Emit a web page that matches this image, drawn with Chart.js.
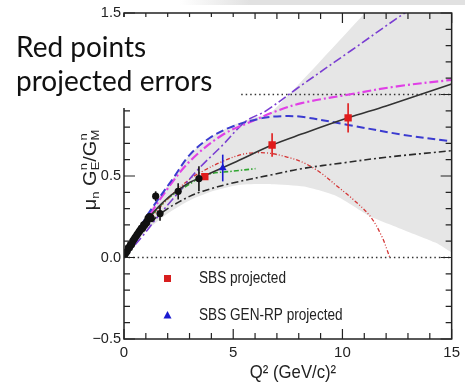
<!DOCTYPE html>
<html>
<head>
<meta charset="utf-8">
<script src="https://cdn.jsdelivr.net/npm/chart.js@4.4.0/dist/chart.umd.min.js"></script>
<style>
  html, body { margin: 0; padding: 0; background: #fff; }
  #wrap { width: 465px; height: 389px; }
</style>
</head>
<body>
<div id="wrap"><canvas id="chart" width="465" height="389"></canvas></div>
<script>
const SANS = "'Liberation Sans', Arial, sans-serif";

// world data (black circles)
const dataQ2  = [0.05, 0.1, 0.15, 0.2, 0.25, 0.3, 0.35, 0.4, 0.45, 0.5, 0.55, 0.6, 0.65, 0.7, 0.75, 0.8, 0.85, 0.9, 0.95, 1.0, 1.05, 1.1, 1.15, 1.2, 1.25, 1.45, 1.65, 2.48, 3.43];
const dataVal = [0.02, 0.03, 0.04, 0.06, 0.06, 0.08, 0.08, 0.10, 0.11, 0.12, 0.13, 0.14, 0.15, 0.16, 0.17, 0.18, 0.18, 0.20, 0.20, 0.21, 0.22, 0.24, 0.25, 0.25, 0.24, 0.376, 0.27, 0.406, 0.484];
const dataErr = [0.02, 0.02, 0.02, 0.02, 0.02, 0.02, 0.02, 0.02, 0.02, 0.02, 0.02, 0.02, 0.02, 0.02, 0.02, 0.02, 0.02, 0.02, 0.02, 0.02, 0.02, 0.02, 0.02, 0.02, 0.02, 0.03, 0.045, 0.05, 0.076];

// SBS projected (red squares)
const sbsQ2  = [3.7, 6.78, 10.26];
const sbsVal = [0.496, 0.69, 0.857];
const sbsErr = [0.015, 0.072, 0.09];

// SBS GEN-RP projected (blue triangle)
const genrpQ2  = [4.52];
const genrpVal = [0.549];
const genrpErr = [0.082];

// fit (black solid)
const fitQ2  = [0, 0.5, 1, 1.5, 2, 2.5, 3, 3.61, 5, 6.78, 8.13, 10.26, 12, 15];
const fitVal = [0, 0.12, 0.22, 0.30, 0.365, 0.415, 0.46, 0.497, 0.58, 0.69, 0.757, 0.857, 0.93, 1.065];

// model curves
const blueQ2  = [0, 0.5, 1, 1.5, 2.26, 3.01, 3.92, 4.97, 6.33, 7.23, 8.13, 10.2, 12.77, 15];
const blueVal = [0, 0.13, 0.245, 0.345, 0.488, 0.63, 0.733, 0.804, 0.855, 0.867, 0.863, 0.815, 0.753, 0.712];

const magQ2  = [0, 0.5, 1, 1.8, 3.01, 4.52, 6.02, 6.93, 8.13, 10.3, 12.5, 15];
const magVal = [0, 0.1, 0.22, 0.386, 0.59, 0.753, 0.845, 0.896, 0.947, 1.0, 1.05, 1.09];

const violetQ2  = [0, 0.9, 1.5, 2.41, 3.46, 4.52, 5.57, 6.5, 7.95, 10.4, 12.85, 15];
const violetVal = [0, 0.14, 0.243, 0.386, 0.55, 0.69, 0.835, 0.9, 1.04, 1.27, 1.5, 1.69];

const dashDotQ2  = [0, 0.5, 1, 1.5, 2, 2.5, 3, 3.61, 4.97, 6.78, 8.13, 10, 12, 15];
const dashDotVal = [0, 0.1, 0.18, 0.25, 0.3, 0.34, 0.375, 0.407, 0.457, 0.508, 0.545, 0.58, 0.615, 0.655];

const redQ2  = [0, 1, 2, 3, 3.61, 4.52, 5.5, 6.5, 7.5, 8.25, 9, 9.76, 10.5, 11.27, 11.8, 12.17];
const redVal = [0, 0.2, 0.36, 0.48, 0.53, 0.59, 0.635, 0.642, 0.615, 0.58, 0.52, 0.437, 0.355, 0.253, 0.13, 0.0];

const greenQ2  = [1, 2, 3, 3.77, 5, 6.02];
const greenVal = [0.22, 0.36, 0.45, 0.508, 0.53, 0.545];

// uncertainty band
const bandQ2    = [0, 1, 1.5, 2.26, 3.01, 3.92, 4.97, 6.0, 6.73, 11.03, 15];
const bandUpper = [0, 0.25, 0.35, 0.49, 0.63, 0.735, 0.81, 0.86, 0.888, 1.5, 2.07];
const bandLowQ2 = [0, 1, 2, 3, 4, 5.24, 6.75, 8.25, 9.76, 11.27, 12.77, 14.28, 15];
const bandLower = [0, 0.16, 0.27, 0.35, 0.405, 0.445, 0.45, 0.435, 0.375, 0.253, 0.171, 0.09, 0.03];

// reference lines
const refQ2 = [0, 15];
const zeroLine = [0, 0];
const oneLine = [1, 1];

// tick labels
const xLabels = [0, 5, 10, 15];
const yLabels = [-0.5, 0, 0.5, 1.0, 1.5];

function pts(xs, ys) {
    return xs.map((x, i) => ({ x: x, y: ys[i] }));
}

function curve(xs, ys, color, width, dash, order) {
    return {
        data: pts(xs, ys),
        borderColor: color,
        borderWidth: width,
        borderDash: dash,
        pointRadius: 0,
        tension: 0.35,
        fill: false,
        order: order
    };
}

function markers(xs, ys, errs, color, style, radius) {
    return {
        data: pts(xs, ys),
        errors: errs,
        showLine: false,
        pointStyle: style,
        pointRadius: radius,
        pointBackgroundColor: color,
        pointBorderColor: color,
        pointBorderWidth: 0,
        order: 0
    };
}

// narrow text: squeeze horizontally around the anchor point
function narrowText(ctx, text, x, y, sx) {
    ctx.save();
    ctx.translate(x, y);
    ctx.scale(sx, 1);
    ctx.fillText(text, 0, 0);
    ctx.restore();
}

const decor = {
    id: 'decor',
    beforeDraw(chart) {
        const ctx = chart.ctx;
        ctx.save();
        ctx.fillStyle = '#fff';
        ctx.fillRect(0, 0, chart.width, chart.height);
        const g = ctx.createLinearGradient(180, 0, 250, 0);
        g.addColorStop(0, 'rgba(225,225,225,0)');
        g.addColorStop(1, 'rgba(225,225,225,1)');
        ctx.fillStyle = g;
        ctx.fillRect(180, 0, chart.width - 180, 5);
        ctx.restore();
    },
    // vertical error bars go in just before their markers
    beforeDatasetDraw(chart, args) {
        const ds = chart.data.datasets[args.index];
        if (!ds.errors) return;
        const xs = chart.scales.x, ys = chart.scales.y, ctx = chart.ctx;
        ctx.save();
        ctx.strokeStyle = ds.pointBackgroundColor;
        ctx.lineWidth = 1.6;
        ds.data.forEach((p, i) => {
            const px = xs.getPixelForValue(p.x);
            ctx.beginPath();
            ctx.moveTo(px, ys.getPixelForValue(p.y - ds.errors[i]));
            ctx.lineTo(px, ys.getPixelForValue(p.y + ds.errors[i]));
            ctx.stroke();
        });
        ctx.restore();
    },
    afterDraw(chart) {
        const ctx = chart.ctx;
        const a = chart.chartArea;
        const xs = chart.scales.x, ys = chart.scales.y;
        ctx.save();

        // frame with inward ticks
        ctx.strokeStyle = '#222';
        ctx.lineWidth = 1.5;
        ctx.strokeRect(a.left, a.top, a.right - a.left, a.bottom - a.top);
        ctx.lineWidth = 1.2;
        ctx.beginPath();
        for (let q = 0; q <= 15; q++) {
            const px = xs.getPixelForValue(q);
            const len = q % 5 === 0 ? 10 : 6;
            ctx.moveTo(px, a.bottom); ctx.lineTo(px, a.bottom - len);
            ctx.moveTo(px, a.top); ctx.lineTo(px, a.top + len);
        }
        for (let i = -5; i <= 15; i++) {
            const py = ys.getPixelForValue(i / 10);
            const len = i % 5 === 0 ? 11 : 6;
            ctx.moveTo(a.left, py); ctx.lineTo(a.left + len, py);
            ctx.moveTo(a.right, py); ctx.lineTo(a.right - len, py);
        }
        ctx.stroke();

        // legend inside the frame
        ctx.fillStyle = '#d81e1e';
        ctx.fillRect(164, 275, 7, 7);
        ctx.fillStyle = '#1a1ad0';
        ctx.beginPath();
        ctx.moveTo(167.5, 311); ctx.lineTo(171.5, 318.5); ctx.lineTo(163.5, 318.5);
        ctx.closePath();
        ctx.fill();
        ctx.fillStyle = '#222';
        ctx.font = '16px ' + SANS;
        ctx.textBaseline = 'middle';
        ctx.textAlign = 'left';
        narrowText(ctx, 'SBS projected', 199, 279, 0.85);
        narrowText(ctx, 'SBS GEN-RP projected', 199, 316, 0.85);

        // x title
        ctx.font = '19px ' + SANS;
        ctx.textAlign = 'center';
        narrowText(ctx, 'Q\u00B2 (GeV/c)\u00B2', 293, 373, 0.88);

        // y title with sub/superscripts, rotated
        ctx.save();
        ctx.translate(91, 170);
        ctx.rotate(-Math.PI / 2);
        ctx.scale(1, 0.9);
        const big = '20px ' + SANS, small = '13px ' + SANS;
        const parts = [
            { t: '\u03BC', f: big, dy: 0 },
            { t: 'n', f: small, dy: 5 },
            { t: ' G', f: big, dy: 0 },
            { sub: 'E', sup: 'n' },
            { t: '/G', f: big, dy: 0 },
            { sub: 'M', sup: 'n' }
        ];
        const widths = parts.map(p => {
            if (p.t) { ctx.font = p.f; return ctx.measureText(p.t).width; }
            ctx.font = small;
            return Math.max(ctx.measureText(p.sub).width, ctx.measureText(p.sup).width);
        });
        let x = -widths.reduce((s, w) => s + w, 0) / 2;
        ctx.textAlign = 'left';
        parts.forEach((p, i) => {
            if (p.t) {
                ctx.font = p.f;
                ctx.fillText(p.t, x, p.dy);
            } else {
                ctx.font = small;
                ctx.fillText(p.sub, x, 5);
                ctx.fillText(p.sup, x, -8);
            }
            x += widths[i];
        });
        ctx.restore();

        // annotation box over the upper left
        ctx.fillStyle = '#fff';
        ctx.fillRect(0, 17, 240, 91);
        ctx.fillStyle = '#111';
        ctx.font = "28px Lato, 'Open Sans', sans-serif";
        ctx.textBaseline = 'alphabetic';
        ctx.textAlign = 'left';
        ctx.fillText('Red points', 16, 57);
        ctx.fillText('projected errors', 16, 91);

        ctx.restore();
    }
};

const datasets = [
    markers(dataQ2, dataVal, dataErr, '#111', 'circle', 3.6),
    markers(sbsQ2, sbsVal, sbsErr, '#e01b1b', 'rect', 5.2),
    markers(genrpQ2, genrpVal, genrpErr, '#1a1ad0', 'triangle', 4.5),
    curve(fitQ2, fitVal, '#333', 1.6, [], 1),
    curve(blueQ2, blueVal, '#3b3bd0', 2, [8, 4], 1),
    curve(magQ2, magVal, '#e040e6', 2.2, [9, 3, 2, 3], 1),
    curve(violetQ2, violetVal, '#7a3ed2', 1.6, [9, 3, 2, 3], 1),
    curve(dashDotQ2, dashDotVal, '#2a2a2a', 1.6, [7, 3, 2, 3], 1),
    curve(redQ2, redVal, '#d43434', 1.3, [4, 2, 1, 2, 1, 2], 1),
    curve(greenQ2, greenVal, '#2fa52f', 1.6, [5, 2, 1.5, 2], 1),
    curve(refQ2, zeroLine, '#333', 1.5, [1.5, 3], 1),
    curve(refQ2, oneLine, '#333', 1.5, [1.5, 3], 1),
    Object.assign(curve(bandQ2, bandUpper, 'rgba(0,0,0,0)', 0, [], 2), { tension: 0.2 }),
    Object.assign(curve(bandLowQ2, bandLower, 'rgba(0,0,0,0)', 0, [], 2), {
        tension: 0.2,
        fill: '-1',
        backgroundColor: '#e6e6e6'
    })
];

new Chart(document.getElementById('chart'), {
    type: 'line',
    data: { datasets: datasets },
    options: {
        responsive: false,
        animation: false,
        layout: { padding: { top: 13, right: 9, left: 0, bottom: 0 } },
        plugins: { legend: { display: false }, tooltip: { enabled: false } },
        scales: {
            x: {
                type: 'linear',
                min: 0, max: 15,
                grid: { display: false, drawTicks: false },
                border: { display: false },
                afterFit: s => { s.height = 50; },
                ticks: {
                    stepSize: 1,
                    autoSkip: false,
                    maxRotation: 0,
                    padding: 5,
                    color: '#222',
                    font: { family: SANS, size: 15 },
                    callback: v => xLabels.includes(v) ? String(v) : ''
                }
            },
            y: {
                type: 'linear',
                min: -0.5, max: 1.5,
                grid: { display: false, drawTicks: false },
                border: { display: false },
                afterFit: s => { s.width = 124; },
                ticks: {
                    stepSize: 0.1,
                    autoSkip: false,
                    padding: 3,
                    color: '#222',
                    font: { family: SANS, size: 14.5 },
                    callback: v => {
                        const hit = yLabels.find(l => Math.abs(l - v) < 1e-6);
                        if (hit === undefined) return '';
                        return (hit < 0 ? '\u2212' : '') + Math.abs(hit).toFixed(1);
                    }
                }
            }
        }
    },
    plugins: [decor]
});
</script>
</body>
</html>
